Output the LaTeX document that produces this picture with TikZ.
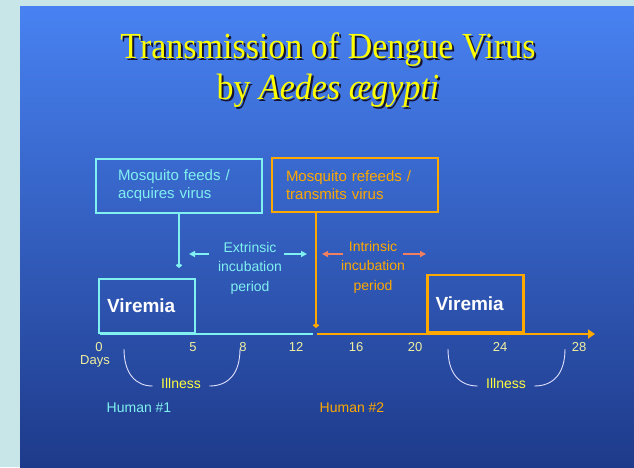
\documentclass[tikz,border=0pt]{standalone}
\usepackage{fontspec}
\setmainfont{Liberation Serif}
\setsansfont{Liberation Sans}
\usepackage{xcolor}
\usetikzlibrary{arrows.meta, positioning, calc}

\definecolor{frameGrey}{RGB}{200,230,232}
\definecolor{panelTop}{RGB}{72,130,242}
\definecolor{panelMid}{RGB}{44,88,196}
\definecolor{panelBot}{RGB}{30,58,138}
\definecolor{hostA}{RGB}{128,240,240}
\definecolor{hostB}{RGB}{255,168,0}
\definecolor{salmon}{RGB}{240,128,96}
\definecolor{dayYellow}{RGB}{240,240,160}
\definecolor{sickYellow}{RGB}{255,255,64}
\definecolor{titleYellow}{RGB}{255,255,0}
\definecolor{titleShade}{RGB}{20,20,50}

% yellow title text with a dark drop shadow
\newcommand{\dropshadow}[1]{\makebox[0pt][l]{\kern2pt\raisebox{-2pt}{\textcolor{titleShade}{#1}}}\textcolor{titleYellow}{#1}}

\tikzset{
  titletext/.style={font=\fontsize{34}{40}\selectfont, anchor=base, yscale=1.08, transform shape},
  eventbox/.style={draw, line width=2.5pt, minimum width=166pt, minimum height=54pt,
    align=left, font=\sffamily\fontsize{15}{18}\selectfont},
  viremiabox/.style={draw, line width=2.5pt, inner xsep=8pt, text width=80pt, align=left,
    font=\sffamily\bfseries\fontsize{19}{19}\selectfont},
  note/.style={align=center, font=\sffamily\fontsize{14}{19.5}\selectfont},
  daylabel/.style={text=dayYellow, font=\sffamily\fontsize{13}{13}\selectfont, inner sep=0pt},
  illarc/.style={draw=white!88!blue, line width=0.9pt},
  period/.style={line width=1.4pt, -{Triangle[length=6pt,width=6pt]}},
  bite/.style={line width=2pt, -{Straight Barb[length=2pt,width=5pt]}}
}

\begin{document}
\begin{tikzpicture}[x=1pt,y=-1pt]
  \useasboundingbox (0,0) rectangle (634,467);
  % Background
  \fill[frameGrey] (0,0) rectangle (634,467);
  \shade[top color=panelTop, middle color=panelMid, bottom color=panelBot] (20,6) rectangle (634,467);

  % Title
  \node[titletext] (title1) at (328,58) {\dropshadow{Transmission of Dengue Virus}};
  \node[titletext] (title2) at (328,99) {\dropshadow{by \textit{Aedes ægypti}}};

  % Mosquito events
  \node[eventbox, hostA, inner xsep=22pt, text width=122pt] (feed) at (179,186) {Mosquito feeds /\\acquires virus};
  \node[eventbox, hostB, inner xsep=14pt, text width=138pt] (refeed) at (355,185) {Mosquito refeeds /\\transmits virus};
  \coordinate (bite1) at (179,268);
  \coordinate (bite2) at (316,328);
  \draw[bite, hostA] (feed.south) -- (bite1);
  \draw[bite, hostB] (refeed.south -| bite2) -- (bite2);

  % Incubation periods
  \node[note, text=hostA] (extrinsic) at (250,268) {Extrinsic\\incubation\\period};
  \node[note, text=hostB] (intrinsic) at (373,267) {Intrinsic\\incubation\\period};
  \draw[period, hostA] (209,254) -- (189,254);
  \draw[period, hostA] (284,254) -- (307,254);
  \draw[period, salmon] (343,254) -- (322,254);
  \draw[period, salmon] (403,254) -- (426,254);

  % Viremia boxes
  \node[viremiabox, draw=hostA, text=white, minimum height=54pt] (viremia1) at (147,306) {Viremia};
  \node[viremiabox, draw=hostB, text=white, minimum height=57pt] (viremia2) at (475.5,303.5) {Viremia};

  % Time axis
  \coordinate (day0) at (100,334);
  \coordinate (cut) at (313,334);
  \coordinate (resume) at (317,334);
  \coordinate (dayEnd) at (595,334);
  \draw[hostA, line width=2.5pt] (day0) -- (cut);
  \draw[hostB, line width=2.5pt, -{Triangle[length=7pt,width=9pt]}] (resume) -- (dayEnd);
  \foreach \d/\x in {0/99, 5/193, 8/243, 12/296, 16/356, 20/415, 24/500, 28/579}
    \node[daylabel] (d\d) at (\x,347) {\d};
  \node[daylabel] (days) at (95,361) {Days};

  % Illness spans
  \node[text=sickYellow, font=\sffamily\fontsize{14}{14}\selectfont] (illness1) at (181,383) {Illness};
  \node[text=sickYellow, font=\sffamily\fontsize{14}{14}\selectfont] (illness2) at (506,383) {Illness};
  \draw[illarc] (124,349) .. controls (124,374) and (136,386) .. ([xshift=-5pt,yshift=-3pt]illness1.west);
  \draw[illarc] (240,349) .. controls (240,374) and (228,386) .. ([xshift=5pt,yshift=-3pt]illness1.east);
  \draw[illarc] (448,349) .. controls (448,374) and (460,386) .. ([xshift=-5pt,yshift=-3pt]illness2.west);
  \draw[illarc] (565,349) .. controls (565,374) and (553,386) .. ([xshift=5pt,yshift=-3pt]illness2.east);

  % Hosts
  \node[text=hostA, font=\sffamily\fontsize{14}{14}\selectfont] (human1) at (139,408) {Human \#1};
  \node[text=hostB, font=\sffamily\fontsize{14}{14}\selectfont] (human2) at (352,408) {Human \#2};
\end{tikzpicture}
\end{document}
